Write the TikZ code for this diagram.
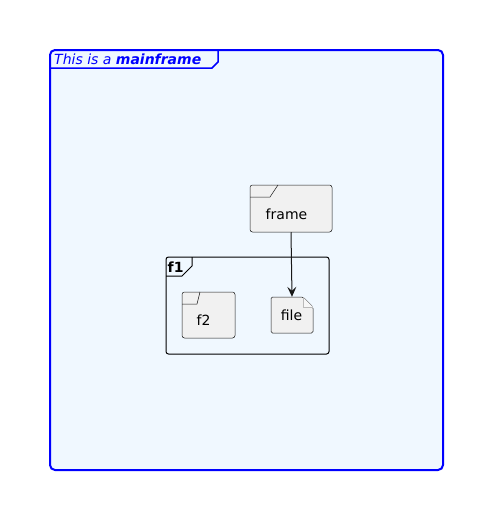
\documentclass[tikz,border=0pt]{standalone}
\usepackage{fontspec}
\setmainfont{DejaVu Sans}
\usetikzlibrary{arrows.meta}
\definecolor{mfblue}{HTML}{0000FF}
\definecolor{mffill}{HTML}{F0F8FF}
\definecolor{elfill}{HTML}{F1F1F1}
\definecolor{elline}{HTML}{181818}
\tikzset{
  elem/.style={draw=elline, fill=elfill, line width=0.5pt, rounded corners=2.5pt, inner sep=0pt},
  lbl/.style={font=\fontsize{14}{16}\selectfont, inner sep=0pt},
  conn/.style={draw=elline, line width=1pt, -{Stealth[length=10pt,width=9pt,inset=4pt]}}
}
\begin{document}
\begin{tikzpicture}[x=1pt,y=-1pt]
\useasboundingbox (0,0) rectangle (498,525);
% mainframe
\draw[draw=mfblue, fill=mffill, line width=2pt, rounded corners=5pt] (50,50) rectangle (443,470);
\draw[draw=mfblue, line width=1.5pt] (50,68) -- (212,68) -- (218,62) -- (218,51);
\node[lbl, anchor=base west, text=mfblue] (mftitle) at (54,64) {\itshape This is a \bfseries mainframe};
% f1 frame
\draw[draw=black, line width=1pt, rounded corners=2.5pt] (166,257) rectangle (329,354);
\draw[draw=black, line width=1pt] (166,276) -- (182,276) -- (192,266) -- (192,257);
\node[lbl, anchor=base west] (f1title) at (167.5,272) {\bfseries f1};
% frame element
\node[elem, minimum width=82pt, minimum height=47pt] (frame) at (291,208.5) {};
\draw[elline, line width=0.5pt] (250,197) -- (270,197) -- (278,185);
\node[lbl] (framelbl) at (286.5,214) {frame};
% f2 element
\node[elem, minimum width=53pt, minimum height=46pt] (f2) at (208.5,315) {};
\draw[elline, line width=0.5pt] (182,304) -- (197,304) -- (200,292);
\node[lbl] (f2lbl) at (203.5,320) {f2};
% file element
\node[minimum width=42pt, minimum height=36pt, inner sep=0pt] (file) at (292,315) {};
\draw[elline, fill=elfill, line width=0.5pt, rounded corners=1.5pt] (271,297) -- (303,297) -- (313,307) -- (313,333) -- (271,333) -- cycle;
\draw[draw=elline!30, fill=elfill!60, line width=0.5pt] (303,297) -- (303,307) -- (313,307);
\node[lbl] (filelbl) at (291.5,315) {file};
% connector
\draw[conn] (frame.south) -- (file.north);
\end{tikzpicture}
\end{document}
